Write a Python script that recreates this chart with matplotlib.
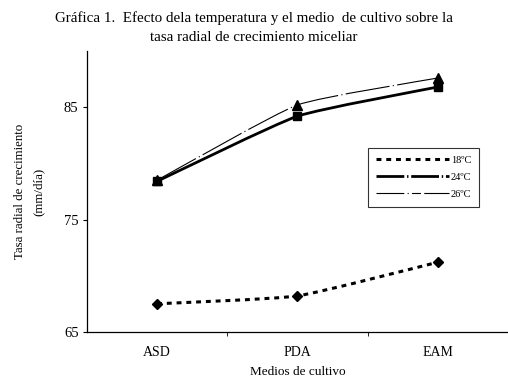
import numpy as np
import matplotlib
matplotlib.use("Agg")
import matplotlib.pyplot as plt
from matplotlib.path import Path
from matplotlib.patches import PathPatch
from matplotlib.lines import Line2D

# =========================
# DATOS
# =========================
medios = ["ASD", "PDA", "EAM"]
t18 = [67.5, 68.2, 71.2]
t24 = [78.4, 84.2, 86.8]
t26 = [78.5, 85.2, 87.6]
etiquetas = ["18ºC", "24ºC", "26ºC"]

plt.rcParams["font.family"] = ["Liberation Serif", "DejaVu Serif"]


def curva_suave(xs, ys, k=0.08):
    # Catmull-Rom -> Bezier (linea suavizada tipo Excel, poca tension)
    pts = np.column_stack([xs, ys]).astype(float)
    ext = np.vstack([pts[0], pts, pts[-1]])
    verts = [tuple(pts[0])]
    codes = [Path.MOVETO]
    for i in range(1, len(ext) - 2):
        p0, p1, p2, p3 = ext[i - 1], ext[i], ext[i + 1], ext[i + 2]
        c1 = p1 + (p2 - p0) * k
        c2 = p2 - (p3 - p1) * k
        verts += [tuple(c1), tuple(c2), tuple(p2)]
        codes += [Path.CURVE4] * 3
    return Path(verts, codes)


fig = plt.figure(figsize=(5.08, 3.81), dpi=100)
ax = fig.add_axes([0.171, 0.129, 0.829, 0.737])

x = np.arange(len(medios))

estilos = [
    (t18, "D", 5, 2.2, (0, (1.6, 1.6))),
    (t24, "s", 6, 2.0, "-"),
    (t26, "^", 6.5, 0.8, (0, (40, 3, 1, 3))),
]

for ys, mk, ms, lw, ls in estilos:
    patch = PathPatch(curva_suave(x, ys), fill=False, edgecolor="black",
                      lw=lw, linestyle=ls, capstyle="butt", zorder=2)
    ax.add_patch(patch)

for ys, mk, ms, lw, ls in estilos:
    ax.plot(x, ys, linestyle="none", marker=mk, markersize=ms,
            color="black", zorder=3)

ax.set_xlim(-0.5, 2.5)
ax.set_ylim(65, 90)
ax.set_yticks([65, 75, 85])
ax.set_xticks(x)
ax.set_xticklabels(medios)
ax.set_xticks([0.5, 1.5], minor=True)
ax.tick_params(axis="x", which="major", length=0, labelsize=10, pad=10)
ax.tick_params(axis="x", which="minor", length=3, direction="out")
ax.tick_params(axis="y", length=3, direction="out", labelsize=10.5, pad=3)

for s in ["top", "right"]:
    ax.spines[s].set_visible(False)
for s in ["left", "bottom"]:
    ax.spines[s].set_linewidth(0.9)

ax.set_xlabel("Medios de cultivo", fontsize=9.5, labelpad=5)
ax.set_ylabel("Tasa radial de crecimiento\n(mm/día)", fontsize=9.3,
              labelpad=14, linespacing=1.75)

fig.suptitle("Gráfica 1.  Efecto dela temperatura y el medio  de cultivo sobre la\n"
             "tasa radial de crecimiento miceliar",
             fontsize=10.8, y=0.97, linespacing=1.55)

handles = [
    Line2D([], [], color="black", lw=2.2, linestyle=(0, (1.6, 1.6))),
    Line2D([], [], color="black", lw=2.0, linestyle=(0, (10, 1, 0.5, 1))),
    Line2D([], [], color="black", lw=0.8, linestyle=(0, (25, 3, 1, 3, 8, 3))),
]
leg = ax.legend(handles, etiquetas, loc="upper left",
                bbox_to_anchor=(0.655, 0.675), fontsize=7.5,
                frameon=True, fancybox=False, edgecolor="black",
                handlelength=7.0, handletextpad=0.2, borderpad=0.75,
                labelspacing=0.75)
leg.get_frame().set_linewidth(0.8)

fig.savefig("out.png", dpi=100)
